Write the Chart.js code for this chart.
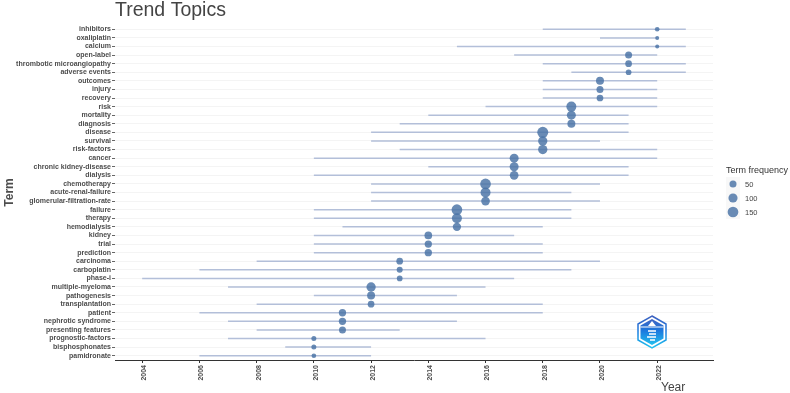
<!DOCTYPE html>
<html>
<head>
<meta charset="utf-8">
<title>Trend Topics</title>
<script src="https://cdn.jsdelivr.net/npm/chart.js@4"></script>
<style>
  body { margin: 0; background: #fff; }
  #wrap { position: relative; width: 790px; height: 393px; }
  #logo { position: absolute; left: 636px; top: 315px; }
</style>
</head>
<body>
<div id="wrap">
  <canvas id="trendChart" width="790" height="393"></canvas>
  <svg id="logo" width="32" height="34" viewBox="0 0 32 34">
    <defs>
      <linearGradient id="logoFill" x1="0" y1="0" x2="0" y2="1">
        <stop offset="0" stop-color="#3f62c0"/>
        <stop offset="0.45" stop-color="#1b78de"/>
        <stop offset="1" stop-color="#22c0ee"/>
      </linearGradient>
    </defs>
    <polygon points="16,1 30,9 30,25 16,33 2,25 2,9" fill="#fff" stroke="url(#logoFill)" stroke-width="1.5"/>
    <polygon points="16,4 27.5,10.5 27.5,23.5 16,30 4.5,23.5 4.5,10.5" fill="url(#logoFill)"/>
    <polygon points="16,6 20,11 12,11" fill="#fff"/>
    <rect x="4.5" y="11.5" width="23" height="1" fill="#fff"/>
    <path d="M12 16h8M13 19h7M11 22h9M14 25h5" stroke="#fff" stroke-width="1.5"/>
  </svg>
</div>
<script>
const terms = ['inhibitors', 'oxaliplatin', 'calcium', 'open-label', 'thrombotic microangiopathy', 'adverse events',
  'outcomes', 'injury', 'recovery', 'risk', 'mortality', 'diagnosis', 'disease', 'survival', 'risk-factors',
  'cancer', 'chronic kidney-disease', 'dialysis', 'chemotherapy', 'acute-renal-failure', 'glomerular-filtration-rate',
  'failure', 'therapy', 'hemodialysis', 'kidney', 'trial', 'prediction', 'carcinoma', 'carboplatin', 'phase-i',
  'multiple-myeloma', 'pathogenesis', 'transplantation', 'patient', 'nephrotic syndrome', 'presenting features',
  'prognostic-factors', 'bisphosphonates', 'pamidronate'];
const yearStart = [2018, 2020, 2015, 2017, 2018, 2019, 2018, 2018, 2018, 2016, 2014, 2013, 2012, 2012, 2013,
  2010, 2014, 2010, 2012, 2012, 2012, 2010, 2010, 2011, 2010, 2010, 2010, 2008, 2006, 2004,
  2007, 2010, 2008, 2006, 2007, 2008, 2007, 2009, 2006];
const yearEnd = [2023, 2022, 2023, 2022, 2023, 2023, 2022, 2022, 2022, 2022, 2021, 2021, 2021, 2020, 2022,
  2022, 2021, 2021, 2020, 2019, 2020, 2019, 2019, 2018, 2017, 2018, 2018, 2020, 2019, 2017,
  2016, 2015, 2018, 2018, 2015, 2013, 2016, 2012, 2012];
const yearMedian = [2022, 2022, 2022, 2021, 2021, 2021, 2020, 2020, 2020, 2019, 2019, 2019, 2018, 2018, 2018,
  2017, 2017, 2017, 2016, 2016, 2016, 2015, 2015, 2015, 2014, 2014, 2014, 2013, 2013, 2013,
  2012, 2012, 2012, 2011, 2011, 2011, 2010, 2010, 2010];
const frequency = [14, 8, 8, 50, 44, 27, 71, 50, 44, 127, 97, 71, 161, 106, 106,
  97, 97, 89, 150, 127, 89, 150, 127, 80, 64, 56, 56, 44, 32, 27,
  106, 71, 44, 56, 56, 50, 18, 18, 14];
const legendValues = [50, 100, 150];

const dotColor = 'rgba(72, 114, 165, 0.82)';
const lineColor = '#b3bfd9';
const textColor = '#4d4d4d';
const fontFamily = '"Liberation Sans", Arial, sans-serif';

function dotRadius(freq) {
  return 1 + 0.355 * Math.sqrt(freq);
}

// title, "Year" and the size legend sit outside what Chart.js lays out by itself
const extraText = {
  id: 'extraText',
  afterDraw(chart) {
    const ctx = chart.ctx;
    ctx.save();
    ctx.textBaseline = 'alphabetic';
    ctx.fillStyle = '#444';
    ctx.font = '19.5px ' + fontFamily;
    ctx.fillText('Trend Topics', 115, 16);
    ctx.font = '12px ' + fontFamily;
    ctx.fillText('Year', 661, 391);
    ctx.fillStyle = '#333';
    ctx.font = '9px ' + fontFamily;
    ctx.fillText('Term frequency', 726, 173);
    legendValues.forEach((value, i) => {
      const y = 184 + i * 14;
      ctx.fillStyle = '#f8f8f8';
      ctx.fillRect(726, y - 7, 14, 14);
      ctx.fillStyle = dotColor;
      ctx.beginPath();
      ctx.arc(733, y, dotRadius(value), 0, Math.PI * 2);
      ctx.fill();
      ctx.fillStyle = '#444';
      ctx.font = '7.5px ' + fontFamily;
      ctx.fillText(String(value), 745, y + 3);
    });
    ctx.restore();
  }
};

const rangeDatasets = terms.map((term, i) => ({
  type: 'line',
  data: [{ x: yearStart[i], y: term }, { x: yearEnd[i], y: term }],
  borderColor: lineColor,
  borderWidth: 1.5,
  pointRadius: 0,
  order: 2
}));

const dotDataset = {
  type: 'scatter',
  data: terms.map((term, i) => ({ x: yearMedian[i], y: term })),
  backgroundColor: dotColor,
  borderWidth: 0,
  pointRadius: frequency.map(dotRadius),
  order: 1
};

new Chart(document.getElementById('trendChart').getContext('2d'), {
  type: 'scatter',
  data: { labels: terms, datasets: [...rangeDatasets, dotDataset] },
  plugins: [extraText],
  options: {
    responsive: false,
    animation: false,
    layout: { padding: { top: 25, right: 77, left: 0, bottom: 0 } },
    plugins: { legend: { display: false }, tooltip: { enabled: false } },
    scales: {
      x: {
        type: 'linear',
        min: 2003.05,
        max: 2023.95,
        afterFit(scale) { scale.height = 33; },
        border: { color: '#333', width: 1 },
        grid: { drawOnChartArea: false, tickLength: 3, tickColor: '#333' },
        ticks: {
          stepSize: 2,
          includeBounds: false,
          minRotation: 90,
          maxRotation: 90,
          padding: 2,
          labelOffset: 2,
          color: textColor,
          font: { family: fontFamily, size: 7, weight: 'bold' },
          callback: v => String(v)
        }
      },
      y: {
        type: 'category',
        labels: terms,
        offset: true,
        afterFit(scale) { scale.width = 115; },
        border: { display: false },
        grid: { offset: false, color: '#f4f4f4', tickColor: '#666', tickLength: 3 },
        ticks: {
          autoSkip: false,
          padding: 1,
          color: textColor,
          font: { family: fontFamily, size: 7, weight: 'bold' }
        },
        title: {
          display: true,
          text: 'Term',
          color: textColor,
          padding: { top: 2, bottom: 0 },
          font: { family: fontFamily, size: 12, weight: 'bold' }
        }
      }
    }
  }
});
</script>
</body>
</html>
